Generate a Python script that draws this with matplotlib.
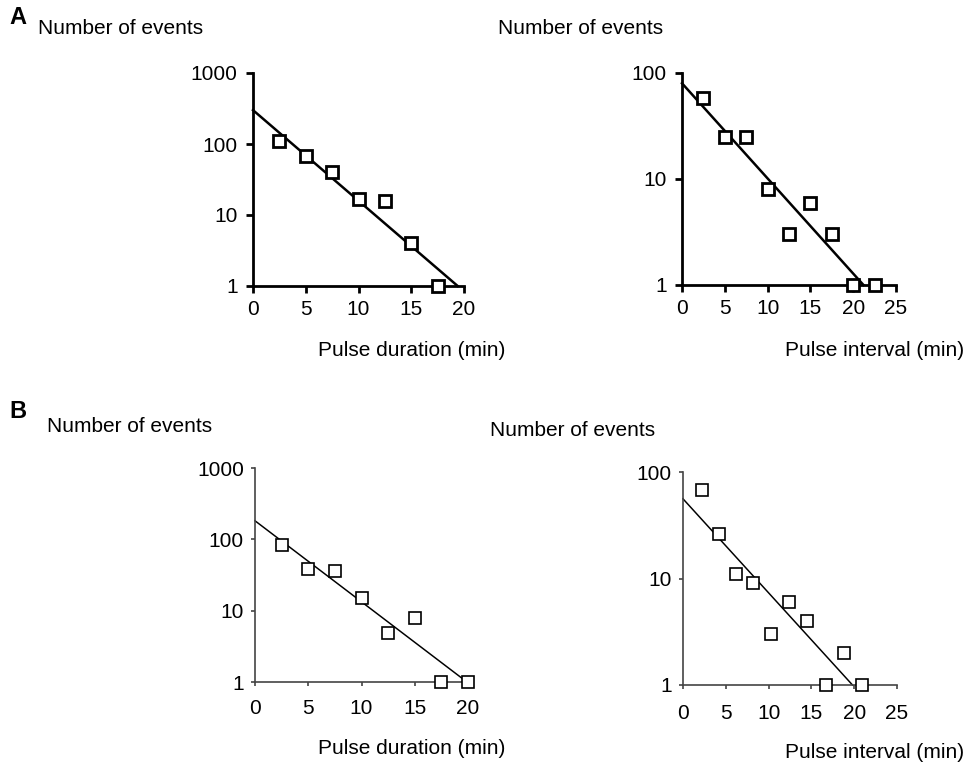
import numpy as np
import matplotlib
matplotlib.use('Agg')
import matplotlib.pyplot as plt
from matplotlib.ticker import FixedLocator, FixedFormatter, NullLocator

plt.rcParams['font.family'] = ['Liberation Sans', 'DejaVu Sans']

# Panel A, pulse duration
a_dur_x = [2.5, 5, 7.5, 10, 12.5, 15, 17.5]
a_dur_y = [110, 67, 40, 17, 16, 4, 1]
a_dur_fit_x = [0, 19.4]
a_dur_fit_y = [300, 1]

# Panel A, pulse interval
a_int_x = [2.5, 5, 7.5, 10, 12.5, 15, 17.5, 20, 22.5]
a_int_y = [58, 25, 25, 8, 3, 5.9, 3, 1, 1]
a_int_fit_x = [0, 21.2]
a_int_fit_y = [80, 1]

# Panel B, pulse duration
b_dur_x = [2.5, 5, 7.5, 10, 12.5, 15, 17.5, 20]
b_dur_y = [84, 38, 36, 15, 4.9, 8, 1, 1]
b_dur_fit_x = [0, 19.9]
b_dur_fit_y = [182, 1]

# Panel B, pulse interval
b_int_x = [2.2, 4.2, 6.2, 8.2, 10.3, 12.4, 14.5, 16.7, 18.8, 20.9]
b_int_y = [68, 26, 11, 9, 3, 6, 4, 1, 2, 1]
b_int_fit_x = [0, 19.8]
b_int_fit_y = [56, 1]

W, H = 969, 768
fig = plt.figure(figsize=(W / 100, H / 100), dpi=100)


def add_axes(x0, y_top, x1, y_bot):
    return fig.add_axes([x0 / W, 1 - y_bot / H, (x1 - x0) / W, (y_bot - y_top) / H])


def style_panel(ax, xs, ys, fx, fy, xmax, xticks, ymax, yticks, lw, ms, axcol, tlen, ypad, xpad):
    ax.plot(fx, fy, color='black', lw=lw * 0.9, clip_on=False, zorder=2)
    ax.plot(xs, ys, linestyle='none', marker='s', ms=ms, mfc='white',
            mec='black', mew=lw, clip_on=False, zorder=3)
    ax.set_yscale('log')
    ax.set_xlim(0, xmax)
    ax.set_ylim(1, ymax)
    ax.yaxis.set_major_locator(FixedLocator(yticks))
    ax.yaxis.set_major_formatter(FixedFormatter([str(t) for t in yticks]))
    ax.yaxis.set_minor_locator(NullLocator())
    ax.set_xticks(xticks)
    ax.set_xticklabels([str(t) for t in xticks])
    for s in ['top', 'right']:
        ax.spines[s].set_visible(False)
    for s in ['left', 'bottom']:
        ax.spines[s].set_linewidth(lw)
        ax.spines[s].set_color(axcol)
    ax.tick_params(axis='both', direction='out', length=tlen, width=lw,
                   color=axcol, labelsize=15)
    ax.tick_params(axis='y', pad=ypad)
    ax.tick_params(axis='x', pad=xpad)
    ax.patch.set_alpha(0)


ax1 = add_axes(253, 73, 464, 286)
style_panel(ax1, a_dur_x, a_dur_y, a_dur_fit_x, a_dur_fit_y, 20,
            [0, 5, 10, 15, 20], 1000, [1, 10, 100, 1000], 2.0, 9, 'black', 5, 6, 5)

ax2 = add_axes(682, 73, 896, 285)
style_panel(ax2, a_int_x, a_int_y, a_int_fit_x, a_int_fit_y, 25,
            [0, 5, 10, 15, 20, 25], 100, [1, 10, 100], 2.0, 9, 'black', 5, 6, 5)

ax3 = add_axes(255, 468, 468, 682)
style_panel(ax3, b_dur_x, b_dur_y, b_dur_fit_x, b_dur_fit_y, 20,
            [0, 5, 10, 15, 20], 1000, [1, 10, 100, 1000], 1.2, 8, '#444444', 3, 5, 9)

ax4 = add_axes(683, 472, 897, 685)
style_panel(ax4, b_int_x, b_int_y, b_int_fit_x, b_int_fit_y, 25,
            [0, 5, 10, 15, 20, 25], 100, [1, 10, 100], 1.2, 8, '#444444', 3, 5, 11)


def ftext(x, y, s, size=15, **kw):
    fig.text(x / W, 1 - y / H, s, va='center', ha='left', fontsize=size, **kw)


ftext(9, 17, 'A', size=17, fontweight='bold')
ftext(38, 28, 'Number of events')
ftext(498, 28, 'Number of events')
ftext(318, 351, 'Pulse duration (min)')
ftext(785, 351, 'Pulse interval (min)')

ftext(9, 411, 'B', size=17, fontweight='bold')
ftext(47, 427, 'Number of events')
ftext(490, 431, 'Number of events')
ftext(318, 748, 'Pulse duration (min)')
ftext(785, 752, 'Pulse interval (min)')

fig.savefig('out.png', dpi=100)
